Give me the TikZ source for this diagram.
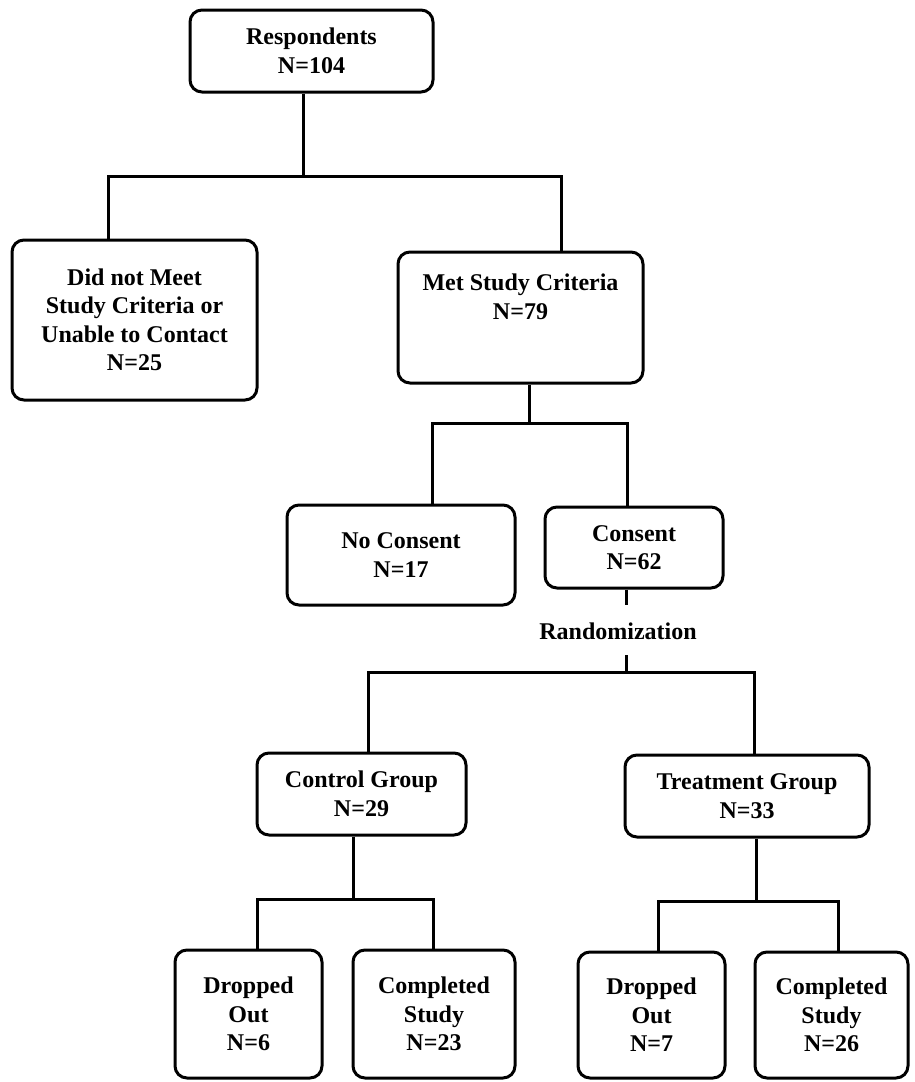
\documentclass[tikz,border=0pt]{standalone}
\usepackage{fontspec}
\newfontfamily\chartfont{Liberation Serif}
\begin{document}
\begin{tikzpicture}[x=1pt,y=-1pt,
  box/.style={draw=black, line width=3pt, rounded corners=12pt, inner sep=0pt,
    align=center, font=\chartfont\bfseries\fontsize{24}{28.5}\selectfont},
  txt/.style={inner sep=0pt, align=center, font=\chartfont\bfseries\fontsize{24}{28.5}\selectfont},
  conn/.style={draw=black, line width=3pt}]
\useasboundingbox (0,0) rectangle (914,1082);

% boxes
\node[box, minimum width=243pt, minimum height=82pt] (resp) at (311.5,51) {Respondents\\N=104};
\node[box, minimum width=245pt, minimum height=160pt] (dnm) at (134.5,320) {Did not Meet\\Study Criteria or\\Unable to Contact\\N=25};
\node[box, minimum width=245pt, minimum height=131pt] (met) at (520.5,317.5) {};
\node[txt] (mettxt) at (520.5,297) {Met Study Criteria\\N=79};
\node[box, minimum width=228pt, minimum height=100pt] (noc) at (401,555) {No Consent\\N=17};
\node[box, minimum width=178pt, minimum height=81pt] (con) at (634,547.5) {Consent\\N=62};
\node[txt] (rand) at (618,631) {Randomization};
\node[box, minimum width=209pt, minimum height=82pt] (ctrl) at (361.5,794) {Control Group\\N=29};
\node[box, minimum width=244pt, minimum height=82pt] (trt) at (747,796) {Treatment Group\\N=33};
\node[box, minimum width=147pt, minimum height=128pt] (d1) at (248.5,1014) {Dropped\\Out\\N=6};
\node[box, minimum width=162pt, minimum height=128pt] (c1) at (434,1014) {Completed\\Study\\N=23};
\node[box, minimum width=147pt, minimum height=126pt] (d2) at (651.5,1015) {Dropped\\Out\\N=7};
\node[box, minimum width=153pt, minimum height=126pt] (c2) at (831.5,1015) {Completed\\Study\\N=26};

% junction coordinates
\coordinate (j1) at (303,176);
\coordinate (j1L) at (108,176);
\coordinate (j1R) at (561,176);
\coordinate (j2) at (529,423);
\coordinate (j2L) at (432,423);
\coordinate (j2R) at (627,423);
\coordinate (s1) at (626,605);
\coordinate (s2) at (626,655);
\coordinate (j3) at (626,672);
\coordinate (j3L) at (368,672);
\coordinate (j3R) at (754,672);
\coordinate (j4) at (353,899);
\coordinate (j4L) at (257,899);
\coordinate (j4R) at (433,899);
\coordinate (j5) at (756,901);
\coordinate (j5L) at (658,901);
\coordinate (j5R) at (838,901);

% connectors
\draw[conn] (resp.south -| j1) -- (j1);
\draw[conn] (dnm.north -| j1L) -- (j1L) -- (j1R) -- (met.north -| j1R);
\draw[conn] (met.south -| j2) -- (j2);
\draw[conn] (noc.north -| j2L) -- (j2L) -- (j2R) -- (con.north -| j2R);
\draw[conn] (con.south -| s1) -- (s1);
\draw[conn] (s2) -- (j3);
\draw[conn] (ctrl.north -| j3L) -- (j3L) -- (j3R) -- (trt.north -| j3R);
\draw[conn] (ctrl.south -| j4) -- (j4);
\draw[conn] (d1.north -| j4L) -- (j4L) -- (j4R) -- (c1.north -| j4R);
\draw[conn] (trt.south -| j5) -- (j5);
\draw[conn] (d2.north -| j5L) -- (j5L) -- (j5R) -- (c2.north -| j5R);
\end{tikzpicture}
\end{document}
